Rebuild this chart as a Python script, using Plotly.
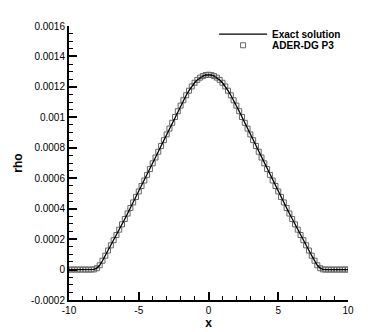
import plotly.graph_objects as go

# sample positions of the profile
x_pts = [-10.0, -9.8, -9.6, -9.4, -9.2, -9.0, -8.8, -8.6, -8.4, -8.2,
         -8.0, -7.8, -7.6, -7.4, -7.2, -7.0, -6.8, -6.6, -6.4, -6.2,
         -6.0, -5.8, -5.6, -5.4, -5.2, -5.0, -4.8, -4.6, -4.4, -4.2,
         -4.0, -3.8, -3.6, -3.4, -3.2, -3.0, -2.8, -2.6, -2.4, -2.2,
         -2.0, -1.8, -1.6, -1.4, -1.2, -1.0, -0.8, -0.6, -0.4, -0.2,
         0.0, 0.2, 0.4, 0.6, 0.8, 1.0, 1.2, 1.4, 1.6, 1.8,
         2.0, 2.2, 2.4, 2.6, 2.8, 3.0, 3.2, 3.4, 3.6, 3.8,
         4.0, 4.2, 4.4, 4.6, 4.8, 5.0, 5.2, 5.4, 5.6, 5.8,
         6.0, 6.2, 6.4, 6.6, 6.8, 7.0, 7.2, 7.4, 7.6, 7.8,
         8.0, 8.2, 8.4, 8.6, 8.8, 9.0, 9.2, 9.4, 9.6, 9.8, 10.0]

# rho (exact solution)
rho_exact = [0.0, 0.0, 0.0, 0.0, 0.0, 0.0, 0.0, 0.0, 0.0, 0.000001,
             0.000009, 0.000028, 0.000058, 0.000091, 0.000125, 0.000159, 0.000193, 0.000227, 0.000262, 0.000297,
             0.000332, 0.000368, 0.000404, 0.000441, 0.000477, 0.000513, 0.000549, 0.000585, 0.000622, 0.000660,
             0.000698, 0.000736, 0.000774, 0.000812, 0.000850, 0.000888, 0.000926, 0.000964, 0.001002, 0.001040,
             0.001077, 0.001112, 0.001145, 0.001175, 0.001203, 0.001227, 0.001246, 0.001261, 0.001271, 0.001278,
             0.001280, 0.001278, 0.001271, 0.001261, 0.001246, 0.001227, 0.001203, 0.001175, 0.001145, 0.001112,
             0.001077, 0.001040, 0.001002, 0.000964, 0.000926, 0.000888, 0.000850, 0.000812, 0.000774, 0.000736,
             0.000698, 0.000660, 0.000622, 0.000585, 0.000549, 0.000513, 0.000477, 0.000441, 0.000404, 0.000368,
             0.000332, 0.000297, 0.000262, 0.000227, 0.000193, 0.000159, 0.000125, 0.000091, 0.000058, 0.000028,
             0.000009, 0.000001, 0.0, 0.0, 0.0, 0.0, 0.0, 0.0, 0.0, 0.0, 0.0]

# ADER-DG P3 values, on top of the exact curve
rho_dg = list(rho_exact)

x_ticks = [-10, -5, 0, 5, 10]
x_labels = ["-10", "-5", "0", "5", "10"]
y_ticks = [-0.0002, 0.0, 0.0002, 0.0004, 0.0006, 0.0008, 0.001, 0.0012, 0.0014, 0.0016]
y_labels = ["-0.0002", "0", "0.0002", "0.0004", "0.0006", "0.0008", "0.001", "0.0012", "0.0014", "0.0016"]

fig = go.Figure()
# markers first so the exact line is drawn over them
fig.add_trace(go.Scatter(
    x=x_pts, y=rho_dg,
    mode='markers',
    name='<b>ADER-DG P3</b>',
    marker=dict(symbol='square-open', size=5, color='#666666', line=dict(width=1)),
    legend='legend2'
))
fig.add_trace(go.Scatter(
    x=x_pts, y=rho_exact,
    mode='lines',
    name='<b>Exact solution</b>',
    line=dict(color='black', width=1.3),
    legend='legend'
))

axis_common = dict(
    showline=True, linecolor='black', linewidth=2,
    ticks='inside', ticklen=8, tickwidth=2, tickcolor='black',
    showgrid=False, zeroline=False, mirror=False, automargin=False,
    tickfont=dict(size=10, color='black'),
)

legend_common = dict(
    xanchor='left', yanchor='top',
    bgcolor='rgba(0,0,0,0)', font=dict(size=10),
    itemwidth=48
)

# the page adds an 8px body margin, so the figure is 8px smaller
fig.update_layout(
    width=366, height=324,
    margin=dict(l=61, r=26, t=16, b=32),
    paper_bgcolor='white', plot_bgcolor='white',
    font=dict(family='Liberation Sans, Arial, sans-serif', color='black'),
    xaxis=dict(
        range=[-10, 10], tickmode='array', tickvals=x_ticks, ticktext=x_labels,
        minor=dict(ticks='inside', ticklen=4, tickwidth=1, tickcolor='black', dtick=1, tick0=0),
        title=dict(text='<b>x</b>', font=dict(size=12), standoff=0),
        **axis_common
    ),
    yaxis=dict(
        range=[-0.0002, 0.0016], tickmode='array', tickvals=y_ticks, ticktext=y_labels,
        minor=dict(ticks='inside', ticklen=4, tickwidth=1, tickcolor='black', dtick=0.00005, tick0=0),
        title=dict(text='<b>rho</b>', font=dict(size=12), standoff=6),
        **axis_common
    ),
    legend=dict(x=0.52, y=1.0236, **legend_common),
    legend2=dict(x=0.52, y=0.9826, **legend_common),
    showlegend=True
)

fig.write_html("out.html")
